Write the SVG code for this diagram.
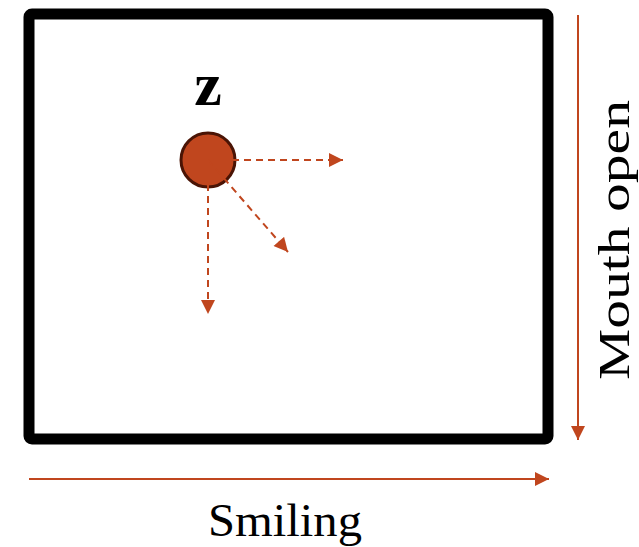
<svg xmlns="http://www.w3.org/2000/svg" width="639" height="547" viewBox="0 0 639 547">
<defs>
<style>
.axis{stroke:#C0461E;stroke-width:2;fill:none}
.dash{stroke:#C0461E;stroke-width:2;stroke-dasharray:7,5;fill:none}
.lbl{font-family:"Liberation Serif","Times New Roman",serif;fill:#000}
</style>
<marker id="ah" viewBox="0 0 10 10" refX="10" refY="5" markerWidth="15" markerHeight="14" markerUnits="userSpaceOnUse" orient="auto">
<path d="M0,0 L10,5 L0,10 Z" fill="#C0461E"/>
</marker>
</defs>
<rect x="0" y="0" width="639" height="547" fill="#fff"/>
<g id="frame">
<rect x="29" y="14" width="519" height="425" rx="3" fill="#fff" stroke="#000" stroke-width="11"/>
</g>
<g id="node-z">
<circle cx="208" cy="160" r="27" fill="#C0461E" stroke="#4A1405" stroke-width="3"/>
<text class="lbl" x="208" y="105" font-size="62" font-weight="bold" text-anchor="middle">z</text>
</g>
<g id="connectors">
<line class="dash" x1="208" y1="160" x2="343" y2="160" marker-end="url(#ah)"/>
<line class="dash" x1="208" y1="160" x2="288" y2="252" marker-end="url(#ah)"/>
<line class="dash" x1="208" y1="160" x2="208" y2="314" marker-end="url(#ah)"/>
<line class="axis" x1="29" y1="479" x2="549" y2="479" marker-end="url(#ah)"/>
<line class="axis" x1="578" y1="15" x2="578" y2="440" marker-end="url(#ah)"/>
</g>
<g id="labels">
<text class="lbl" x="285" y="536" font-size="46" text-anchor="middle" textLength="154" lengthAdjust="spacingAndGlyphs">Smiling</text>
<text class="lbl" transform="translate(629,240) rotate(-90)" x="0" y="0" font-size="45" text-anchor="middle" textLength="280" lengthAdjust="spacingAndGlyphs">Mouth open</text>
</g>
</svg>
